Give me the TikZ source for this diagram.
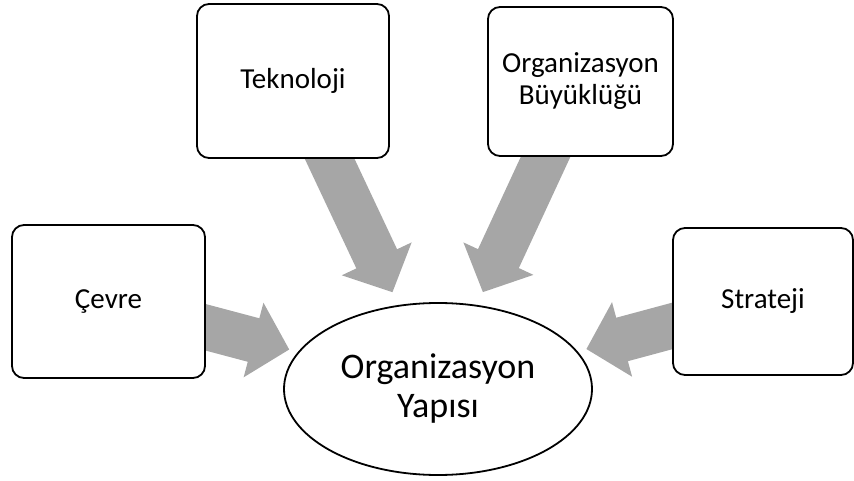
\documentclass[tikz,border=0pt]{standalone}
\usepackage{fontspec}
\setmainfont{Carlito}
\usepackage{tikz}
\usetikzlibrary{arrows.meta}
\usetikzlibrary{backgrounds}
\usetikzlibrary{shapes.geometric}
\definecolor{arrowgray}{HTML}{A6A6A6}

\begin{document}
\begin{tikzpicture}[x=1pt,y=-1pt,
		factor/.style={draw,line width=1.8pt,rectangle,rounded corners=12pt,fill=white,align=center,font=\fontsize{29}{32}\selectfont},
		result/.style={draw,line width=1.8pt,ellipse,fill=white,inner sep=0pt,minimum width=308pt,minimum height=172pt,align=center,font=\fontsize{36}{39}\selectfont},
		blockarrow/.style={arrowgray,line width=45pt,-{Triangle[length=37pt,width=75pt]},shorten >=9pt}]
		\useasboundingbox (0,0) rectangle (854,481);

		\node [factor,minimum width=193pt,minimum height=153pt] (cevre) at (108.5,301.5) {Çevre};
		\node [factor,minimum width=192pt,minimum height=154pt] (teknoloji) at (293,81) {Teknoloji};
		\node [factor,minimum width=185pt,minimum height=149pt] (buyukluk) at (580.5,81.5) {Organizasyon\\Büyüklüğü};
		\node [factor,minimum width=180pt,minimum height=147pt] (strateji) at (763,301.5) {Strateji};
		\node [result] (yapi) at (438,389) {Organizasyon\\Yapısı};

		\begin{scope}[on background layer]
			\draw [blockarrow] (cevre.center) -- (yapi);
			\draw [blockarrow,shorten >=14pt] (teknoloji.center) -- (yapi);
			\draw [blockarrow,shorten >=14pt] (buyukluk.center) -- (yapi);
			\draw [blockarrow] (strateji.center) -- (yapi);
		\end{scope}
	\end{tikzpicture}
\end{document}
